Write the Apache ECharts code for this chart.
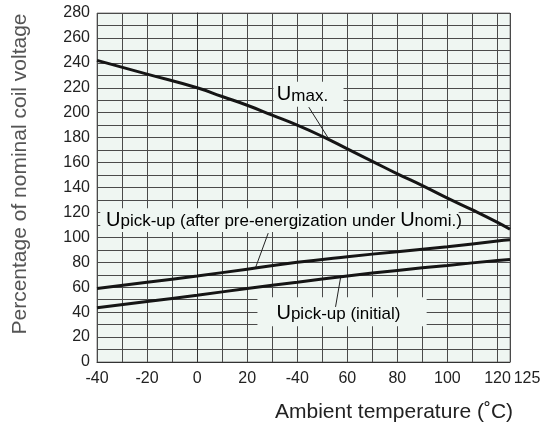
<!DOCTYPE html>
<html><head><meta charset="utf-8">
<script src="https://cdn.jsdelivr.net/npm/echarts@6/dist/echarts.min.js"></script>
<style>html,body{margin:0;padding:0;background:#fff}#c{width:545px;height:430px}</style>
</head><body><div id="c"></div>
<script>
// ---- data ----
const umaxT = [-40, -20, 0, 10, 20, 30, 40, 50, 60, 70, 80, 90, 100, 110, 120, 125];
const umaxV = [242, 231, 220, 213, 206, 198, 190, 181, 171, 161, 151, 141.5, 131.5, 122, 112, 106.5];
const pickAfterT = [-40, -20, 0, 20, 40, 60, 80, 100, 120, 125];
const pickAfterV = [59, 64, 69, 74.5, 80, 84.5, 88.5, 92.5, 97, 98];
const pickInitT = [-40, -20, 0, 20, 40, 60, 80, 100, 120, 125];
const pickInitV = [43.5, 48.5, 53.5, 59, 64, 69, 73.5, 77.5, 81.5, 82.3];
const xTickValues = [-40, -20, 0, 20, 40, 60, 80, 100, 120, 125];
const xTickLabels = ['-40', '-20', '0', '20', '-40', '60', '80', '100', '120', '125'];
const yTickValues = [0, 20, 40, 60, 80, 100, 120, 140, 160, 180, 200, 220, 240, 260, 280];

const FONT = 'Liberation Sans, Arial, sans-serif';
const BG = '#eff6f2';
const pair = (ts, vs) => ts.map((t, i) => [t, vs[i]]);

const chart = echarts.init(document.getElementById('c'), null, {renderer: 'canvas'});
const lineStyle = {color: '#151515', width: 3};
chart.setOption({
  animation: false,
  backgroundColor: '#fff',
  grid: {left: 97, right: 35, top: 13, bottom: 68, show: true, backgroundColor: BG, borderColor: '#888', borderWidth: 1},
  xAxis: {
    type: 'value', min: -40, max: 125, interval: 10,
    axisLine: {show: true, lineStyle: {color: '#333', width: 1}},
    axisTick: {show: false},
    splitLine: {show: true, lineStyle: {color: '#4a4a4a', width: 1}},
    axisLabel: {
      customValues: xTickValues, margin: 9, color: '#222', fontFamily: FONT, fontSize: 16,
      formatter: v => {
        const i = xTickValues.indexOf(v);
        const s = i >= 0 ? xTickLabels[i] : '';
        return v === 125 ? '{r|' + s + '}' : s;
      },
      rich: {r: {fontFamily: FONT, fontSize: 16, color: '#222', padding: [0, 0, 0, 34]}}
    },
    name: 'Ambient temperature (\u02DAC)', nameLocation: 'middle', nameGap: 40,
    nameTextStyle: {fontFamily: FONT, fontSize: 21, color: '#222', padding: [0, 0, 0, 181]}
  },
  yAxis: {
    type: 'value', min: 0, max: 280, interval: 10,
    axisLine: {show: true, lineStyle: {color: '#333', width: 1}},
    axisTick: {show: false},
    splitLine: {show: true, lineStyle: {color: '#4a4a4a', width: 1}},
    axisLabel: {customValues: yTickValues, margin: 7, color: '#222', fontFamily: FONT, fontSize: 16, padding: [6, 0, 0, 0]},
    name: 'Percentage of nominal coil voltage', nameLocation: 'middle', nameGap: 66,
    nameTextStyle: {fontFamily: FONT, fontSize: 21, color: '#555', padding: [0, 0, 0, 27]}
  },
  series: [
    {type: 'line', name: 'Umax.', smooth: true, symbol: 'none', lineStyle, data: pair(umaxT, umaxV), z: 5},
    {type: 'line', name: 'Upick-up after', smooth: true, symbol: 'none', lineStyle, data: pair(pickAfterT, pickAfterV), z: 5},
    {type: 'line', name: 'Upick-up initial', smooth: true, symbol: 'none', lineStyle, data: pair(pickInitT, pickInitV), z: 5}
  ]
});

// ---- annotations, anchored in data coordinates ----
const P = (t, v) => chart.convertToPixel({gridIndex: 0}, [t, v]);
const rich = {
  u: {fontFamily: FONT, fontSize: 20, color: '#222', verticalAlign: 'bottom'},
  s: {fontFamily: FONT, fontSize: 17, color: '#222', verticalAlign: 'bottom'}
};
function box(t0, v0, t1, v1) {
  const a = P(t0, v0), b = P(t1, v1);
  return {type: 'rect', z: 3, shape: {x: a[0], y: a[1], width: b[0] - a[0], height: b[1] - a[1]}, style: {fill: BG}, silent: true};
}
function lead(t0, v0, t1, v1) {
  const a = P(t0, v0), b = P(t1, v1);
  return {type: 'line', z: 4, shape: {x1: a[0], y1: a[1], x2: b[0], y2: b[1]}, style: {stroke: '#222', lineWidth: 1}, silent: true};
}
function label(t, v, text, align) {
  const a = P(t, v);
  return {type: 'text', z: 4, x: a[0], y: a[1], style: {text, rich, align, verticalAlign: 'middle'}, silent: true};
}
chart.setOption({
  graphic: [
    box(30.5, 224.8, 58.5, 204.7),
    label(42.1, 214.4, '{u|U}{s|max.}', 'center'),
    lead(44.6, 204.5, 52.6, 179),
    box(-38.7, 123.3, 104.5, 104.2),
    label(-36.4, 113.9, '{u|U}{s|pick-up (after pre-energization under }{u|U}{s|nomi.)}', 'left'),
    lead(28.4, 103.4, 23.3, 75.5),
    box(24.1, 52, 91.7, 28.7),
    label(31.7, 39.1, '{u|U}{s|pick-up (initial)}', 'left'),
    lead(57.3, 67.5, 55.3, 44.2)
  ]
});
</script></body></html>
